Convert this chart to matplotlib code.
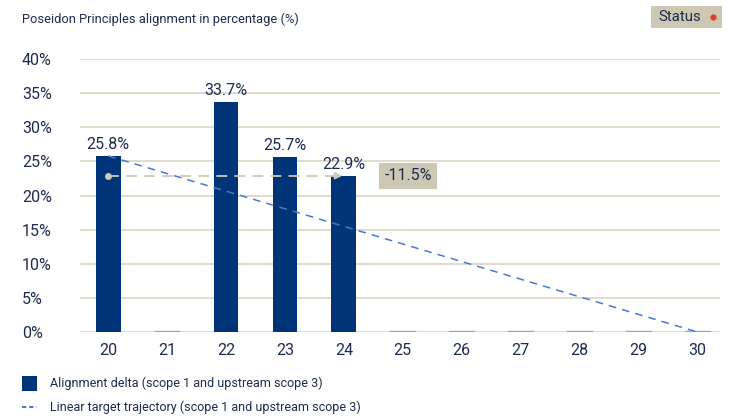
import matplotlib.pyplot as plt
import numpy as np

years = [20, 21, 22, 23, 24, 25, 26, 27, 28, 29, 30]
alignment = [25.8, 0, 33.7, 25.7, 22.9, 0, 0, 0, 0, 0, 0]
shown = [True, False, True, True, True, False, False, False, False, False, False]
target_years = [20, 30]
target_values = [25.8, 0]
delta_label = "-11.5%"
yticks = [0, 5, 10, 15, 20, 25, 30, 35, 40]

navy = "#003478"
txt = "#1d2b4f"
tan = "#d9d4c3"
box = "#cdc8b4"

plt.rcParams['font.family'] = ['Roboto', 'DejaVu Sans']
num_fs = 11.5
txt_fs = 9

fig = plt.figure(figsize=(7.29, 4.16), dpi=100)
ax = fig.add_axes([0.110, 0.202, 0.878, 0.656])

ax.bar(years, alignment, width=0.42, color=navy, zorder=3)
# zero-value years drawn as thin line at baseline
for x, v, s in zip(years, alignment, shown):
    if not s:
        ax.plot([x - 0.21, x + 0.21], [0.1, 0.1], color="#9aa6b8", lw=1, zorder=4)

ax.plot(target_years, target_values, color="#4a78d0", lw=1.1, ls=(0, (5, 4)), zorder=5)

# delta from first to last reported year
ax.plot([20, 23.85], [22.9, 22.9], color="#cfcab8", lw=1.3, ls=(0, (6, 4)), zorder=6)
ax.plot(20, 22.9, 'o', color="#cfcab8", ms=4, zorder=6)
ax.annotate("", xy=(24.02, 22.9), xytext=(23.8, 22.9),
            arrowprops=dict(arrowstyle="-|>", color="#cfcab8", lw=1.3, mutation_scale=10), zorder=6)
ax.text(25.09, 22.9, delta_label, ha="center", va="center", fontsize=num_fs, color=txt,
        bbox=dict(boxstyle="square,pad=0.35", fc=box, ec="none"), zorder=7)

for x, v, s in zip(years, alignment, shown):
    if s:
        ax.text(x, v + 0.6, f"{v:.1f}%", ha="center", va="bottom", fontsize=num_fs, color=txt, zorder=7)

ax.set_xlim(19.525, 30.39)
ax.set_ylim(0, 40)
ax.set_xticks(years)
ax.set_xticklabels([str(y) for y in years])
ax.set_yticks(yticks)
ax.set_yticklabels([f"{t}%" for t in yticks])
ax.tick_params(length=0, labelsize=num_fs, colors=txt)
ax.tick_params(axis='x', pad=8)
for lab in ax.get_yticklabels():
    lab.set_horizontalalignment('left')
ax.yaxis.set_tick_params(pad=42)
ax.grid(axis='y', color=tan, lw=1.2, zorder=0)
for sp in ax.spines.values():
    sp.set_visible(False)

fig.text(22 / 729, 1 - 19 / 416, "Poseidon Principles alignment in percentage (%)",
         fontsize=txt_fs + 0.3, color=txt, va="center")

# status badge
fig.patches.append(plt.Rectangle((651 / 729, 1 - 28 / 416), 71 / 729, 22 / 416,
                                 transform=fig.transFigure, fc=box, ec="none"))
fig.text(658 / 729, 1 - 17 / 416, "Status", fontsize=10.8, color=txt, va="center")
fig.lines.append(plt.Line2D([713 / 729], [1 - 17 / 416], marker='o', ms=4.5, mec="none",
                            color="#e0401f", transform=fig.transFigure))

# legend
fig.patches.append(plt.Rectangle((22 / 729, 1 - 391 / 416), 15 / 729, 15 / 416,
                                 transform=fig.transFigure, fc=navy, ec="none"))
fig.text(50 / 729, 1 - 383 / 416, "Alignment delta (scope 1 and upstream scope 3)",
         fontsize=txt_fs, color=txt, va="center")
fig.lines.append(plt.Line2D([22 / 729, 37 / 729], [1 - 407 / 416] * 2, color="#4a78d0",
                            lw=1.5, ls=(0, (2, 1.5)), transform=fig.transFigure))
fig.text(50 / 729, 1 - 407 / 416, "Linear target trajectory (scope 1 and upstream scope 3)",
         fontsize=txt_fs, color=txt, va="center")

fig.savefig("out.png", dpi=100)
